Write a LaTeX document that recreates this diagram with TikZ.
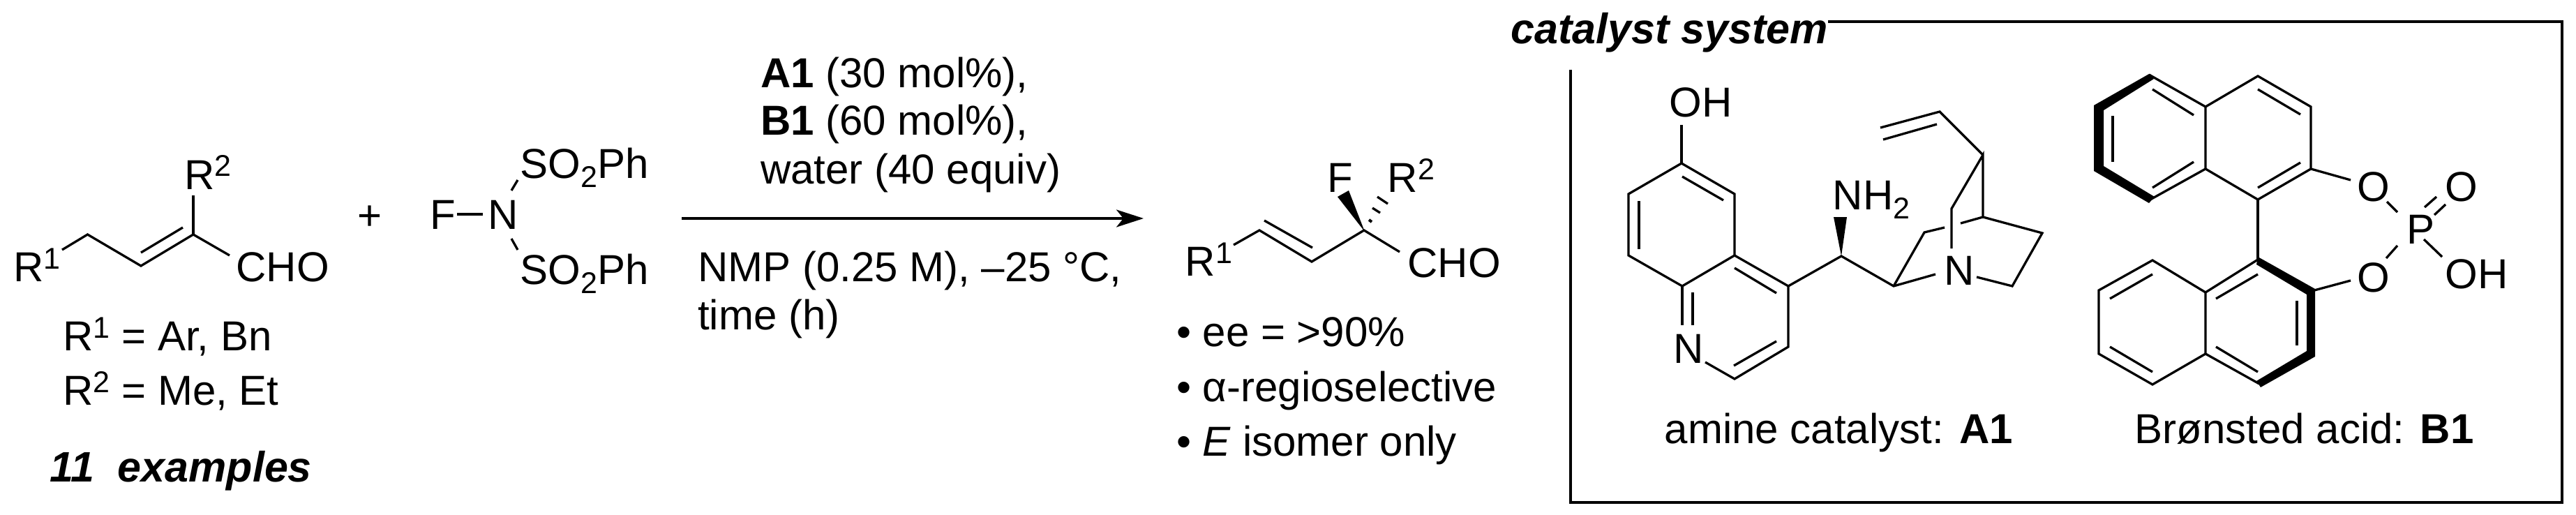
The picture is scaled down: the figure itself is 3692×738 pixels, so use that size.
\documentclass[tikz,border=0pt]{standalone}
\usepackage{fontspec}
\setmainfont{Liberation Sans}
\usetikzlibrary{arrows.meta}
\newcommand{\supnum}[1]{\raisebox{18pt}{\fontsize{43}{45}\selectfont #1}}
\newcommand{\subnum}[1]{\raisebox{-13pt}{\fontsize{43}{45}\selectfont #1}}
\tikzset{
    atom/.style={anchor=base west, inner sep=0pt, font=\fontsize{60}{62}\selectfont},
    heading/.style={anchor=base west, inner sep=0pt, font=\fontsize{61}{63}\selectfont\bfseries\itshape},
    bond/.style={line width=3.3pt, line join=miter},
    frameline/.style={line width=4pt, line join=miter}
}
\begin{document}
\begin{tikzpicture}[x=1pt, y=-1pt]
    \useasboundingbox (0,0) rectangle (3692,738);
    \begin{scope}[bond]
        \draw (89,358) -- (125.5,336) -- (202,381) -- (277,336) -- (329,366);
        \draw (202,362) -- (262,326);
        \draw (277,336) -- (277,280);
        \node[atom] (rone) at (18,403) {R\supnum{1}};
        \node[atom] (rtwo) at (263,271) {R\supnum{2}};
        \node[atom] (cho) at (337,403) {CHO};
        \node[atom] (rdefa) at (89,502) {R\supnum{1} = Ar, Bn};
        \node[atom] (rdefb) at (89,580) {R\supnum{2} = Me, Et};
        \node[heading] (scope) at (70,690) {11\ \ examples};
    \end{scope}
    \node[atom, anchor=center] (plus) at (530,312) {+};
    \begin{scope}[bond]
        \draw (655,307) -- (692,307);
        \draw (733,273) -- (742,258);
        \draw (733,342) -- (742,358);
        \node[atom] (fluoro) at (615,328) {F};
        \node[atom] (nitro) at (698,328) {N};
        \node[atom] (sulfa) at (744,255) {SO\subnum{2}Ph};
        \node[atom] (sulfb) at (744,407) {SO\subnum{2}Ph};
    \end{scope}
    \node[atom] (cata) at (1090,126) {\textbf{A1} (30 mol\%),};
    \node[atom] (catb) at (1090,194) {\textbf{B1} (60 mol\%),};
    \node[atom] (water) at (1090,263) {water (40 equiv)};
    \node[atom] (solvent) at (1000,403) {NMP (0.25 M), --25 °C,};
    \node[atom] (timeh) at (1000,472) {time (h)};
    \coordinate (arrowstart) at (977,313);
    \coordinate (arrowend) at (1639,313);
    \draw[bond, -{Stealth[length=39pt, width=25pt, inset=10pt]}] (arrowstart) -- (arrowend);
    \begin{scope}[bond]
        \draw (1768,351) -- (1805,330) -- (1880,375) -- (1955,330) -- (2006,361);
        \draw (1812,316) -- (1881,355);
        \fill (1956,332) -- (1917,282) -- (1933,273) -- cycle;
        \draw[line width=4pt] (1962,315) -- (1966,318);
        \draw (1967,298) -- (1978,305);
        \draw (1974,282) -- (1989,292);
        \node[atom] (rprodone) at (1697,395) {R\supnum{1}};
        \node[atom] (fprod) at (1901,276) {F};
        \node[atom] (rprodtwo) at (1987,276) {R\supnum{2}};
        \node[atom] (choprod) at (2016,397) {CHO};
    \end{scope}
    \node[atom] (noteee) at (1686,496) {• ee = >90\%};
    \node[atom] (notereg) at (1686,575) {• α-regioselective};
    \node[atom] (noteiso) at (1686,653) {• \textit{E} isomer only};
    \node[heading] (system) at (2165,63) {catalyst system};
    \draw[frameline] (2620,31) -- (3672,31) -- (3672,720) -- (2251,720) -- (2251,100);
    \begin{scope}[bond]
        \draw (2410,179) -- (2410,234);
        \draw (2410,234) -- (2486,278) -- (2486,366) -- (2411,410) -- (2334,366) -- (2334,278) -- cycle;
        \draw (2411,253) -- (2470,287);
        \draw (2349,288) -- (2349,357);
        \draw (2486,366) -- (2563,410) -- (2563,497) -- (2486,543) -- (2444,519);
        \draw (2411,410) -- (2411,466);
        \draw (2426,419) -- (2426,466);
        \draw (2486,384) -- (2546,420);
        \draw (2485,524) -- (2546,489);
        \draw (2563,410) -- (2639,367) -- (2714,410) -- (2774,393);
        \fill (2639,367) -- (2628,311) -- (2647,311) -- cycle;
        \draw (2714,410) -- (2758,333) -- (2787,326);
        \draw (2810,320) -- (2842,311) -- (2927,334) -- (2884,410) -- (2833,397);
        \draw (2842,311) -- (2842,222) -- (2797,299) -- (2797,356);
        \draw (2842,222) -- (2780,160) -- (2695,183);
        \draw (2776,178) -- (2699,200);
        \node[atom] (ohamine) at (2391,168) {OH};
        \node[atom] (nquin) at (2397,520) {N};
        \node[atom] (nhtwo) at (2625,300) {NH\subnum{2}};
        \node[atom] (nquinu) at (2785,408) {N};
        \node[atom] (capa) at (2384,635) {amine catalyst: \textbf{A1}};
    \end{scope}
    \begin{scope}[bond]
        \fill (3080,106) -- (3001,151) -- (3001,245) -- (3080,291) -- (3088,282) -- (3015,238) -- (3015,158) -- (3087,113) -- cycle;
        \draw (3080,107) -- (3161,153) -- (3161,242) -- (3080,287);
        \draw (3085,128) -- (3144,165);
        \draw (3028,166) -- (3028,232);
        \draw (3085,269) -- (3144,232);
        \draw (3161,153) -- (3236,109) -- (3312,153) -- (3312,242) -- (3236,286) -- (3161,242);
        \draw (3236,128) -- (3297,164);
        \draw (3236,269) -- (3297,233);
        \draw (3312,242) -- (3369,258);
        \draw (3421,289) -- (3436,304);
        \draw (3436,352) -- (3420,370);
        \draw (3475,297) -- (3492,282);
        \draw (3489,308) -- (3505,293);
        \draw (3474,343) -- (3500,368);
        \draw (3236,286) -- (3236,372);
        \fill (3236,368) -- (3318,414) -- (3318,511) -- (3240,555) -- (3234,546) -- (3306,503) -- (3306,422) -- (3234,379) -- cycle;
        \draw (3236,372) -- (3161,419) -- (3161,507) -- (3238,550);
        \draw (3161,419) -- (3085,373) -- (3008,416) -- (3008,507) -- (3085,551) -- (3161,507);
        \draw (3317,416) -- (3369,402);
        \draw (3085,393) -- (3024,428);
        \draw (3024,497) -- (3085,533);
        \draw (3176,497) -- (3236,533);
        \draw (3176,428) -- (3236,393);
        \draw (3292,431) -- (3292,495);
        \node[atom] (oxa) at (3377,288) {O};
        \node[atom] (oxb) at (3377,418) {O};
        \node[atom] (phos) at (3448,349) {P};
        \node[atom] (oxc) at (3503,288) {O};
        \node[atom] (ohacid) at (3503,413) {OH};
        \node[atom] (capb) at (3058,635) {Brønsted acid: \textbf{B1}};
    \end{scope}
\end{tikzpicture}
\end{document}
